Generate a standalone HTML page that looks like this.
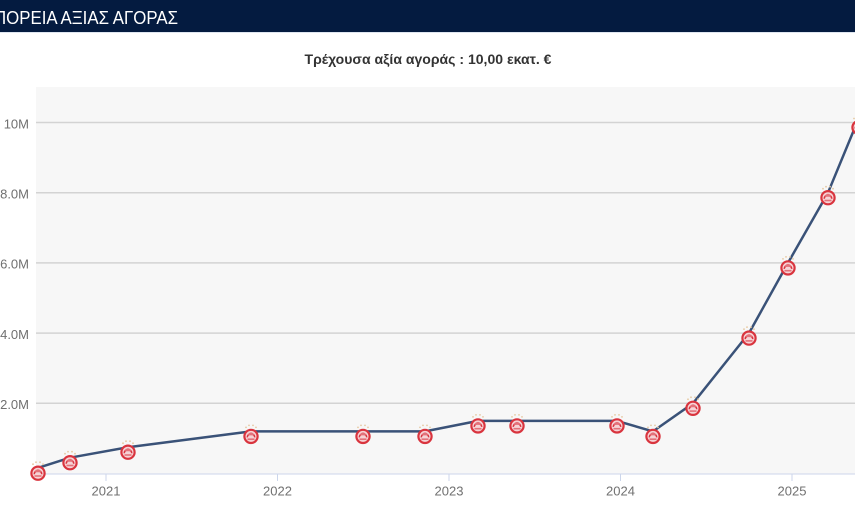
<!DOCTYPE html>
<html><head><meta charset="utf-8"><style>
html,body{margin:0;padding:0;background:#fff;}
svg{display:block;font-family:"Liberation Sans","DejaVu Sans",sans-serif;}
</style></head><body>
<svg width="855" height="513" viewBox="0 0 855 513" xmlns="http://www.w3.org/2000/svg">
<defs>
<g id="m">
  <circle cx="-5" cy="-9" r="0.9" fill="#e6c9a3"/>
  <circle cx="-2" cy="-11" r="0.9" fill="#e6c9a3"/>
  <circle cx="2" cy="-11" r="0.9" fill="#e6c9a3"/>
  <circle cx="5" cy="-9" r="0.9" fill="#e6c9a3"/>
  <circle cx="0" cy="0" r="6.6" fill="#f6d3d6" stroke="#d9343e" stroke-width="2.2"/>
  <path d="M-4.5,1 A4.5,4.5 0 0 1 4.5,1 L3,1 A3,2.5 0 0 0 -3,1 Z" fill="#d9343e"/>
  <path d="M-3,-1 A3,3 0 0 1 3,-1 L0,-1 Z" fill="#e3727a"/>
  <rect x="-3.5" y="2" width="7" height="1.6" fill="#e3727a"/>
</g>
</defs>
<rect x="0" y="0" width="855" height="32" fill="#041b40"/>
<rect x="0" y="32" width="855" height="1" fill="#dfe6f0"/>
<text x="-6" y="24" font-size="18" fill="#ffffff" textLength="184" lengthAdjust="spacingAndGlyphs">ΠΟΡΕΙΑ ΑΞΙΑΣ ΑΓΟΡΑΣ</text>
<text x="428" y="64" font-size="13.5" font-weight="bold" fill="#333333" text-anchor="middle" textLength="247" lengthAdjust="spacingAndGlyphs">Τρέχουσα αξία αγοράς : 10,00 εκατ. €</text>
<rect x="36" y="87" width="819" height="387" fill="#f7f7f7"/>
<g stroke="#d3d3d3" stroke-width="1.5">
<line x1="36" y1="122.5" x2="855" y2="122.5"/>
<line x1="36" y1="192.7" x2="855" y2="192.7"/>
<line x1="36" y1="262.9" x2="855" y2="262.9"/>
<line x1="36" y1="333.1" x2="855" y2="333.1"/>
<line x1="36" y1="403.3" x2="855" y2="403.3"/>
</g>
<line x1="36" y1="474" x2="855" y2="474" stroke="#ccd6eb" stroke-width="1"/>
<g stroke="#ccd6eb" stroke-width="1">
<line x1="106" y1="474" x2="106" y2="481"/>
<line x1="277.5" y1="474" x2="277.5" y2="481"/>
<line x1="449" y1="474" x2="449" y2="481"/>
<line x1="620.5" y1="474" x2="620.5" y2="481"/>
<line x1="792" y1="474" x2="792" y2="481"/>
</g>
<g font-size="13" fill="#707070" text-anchor="end">
<text x="29" y="128.5">10M</text>
<text x="29" y="198.5">8.0M</text>
<text x="29" y="268.5">6.0M</text>
<text x="29" y="339">4.0M</text>
<text x="29" y="409">2.0M</text>
</g>
<g font-size="13" fill="#707070" text-anchor="middle">
<text x="106" y="495.5">2021</text>
<text x="277.5" y="495.5">2022</text>
<text x="449" y="495.5">2023</text>
<text x="620.5" y="495.5">2024</text>
<text x="792" y="495.5">2025</text>
</g>
<polyline fill="none" stroke="#3a5278" stroke-width="2.5" stroke-linejoin="round" points="37,468.2 70,457.7 128,447.2 251,431.4 363,431.4 425,431.4 478,420.9 517,420.9 617,420.9 653,431.4 693,403.3 749,333.1 788,262.9 828,192.7 857,122.5"/>
<use href="#m" x="38" y="473.2"/>
<use href="#m" x="70" y="462.7"/>
<use href="#m" x="128" y="452.2"/>
<use href="#m" x="251" y="436.4"/>
<use href="#m" x="363" y="436.4"/>
<use href="#m" x="425" y="436.4"/>
<use href="#m" x="478" y="425.9"/>
<use href="#m" x="517" y="425.9"/>
<use href="#m" x="617" y="425.9"/>
<use href="#m" x="653" y="436.4"/>
<use href="#m" x="693" y="408.3"/>
<use href="#m" x="749" y="338.1"/>
<use href="#m" x="788" y="267.9"/>
<use href="#m" x="828" y="197.7"/>
<use href="#m" x="859" y="127.5"/>
</svg>
</body></html>
